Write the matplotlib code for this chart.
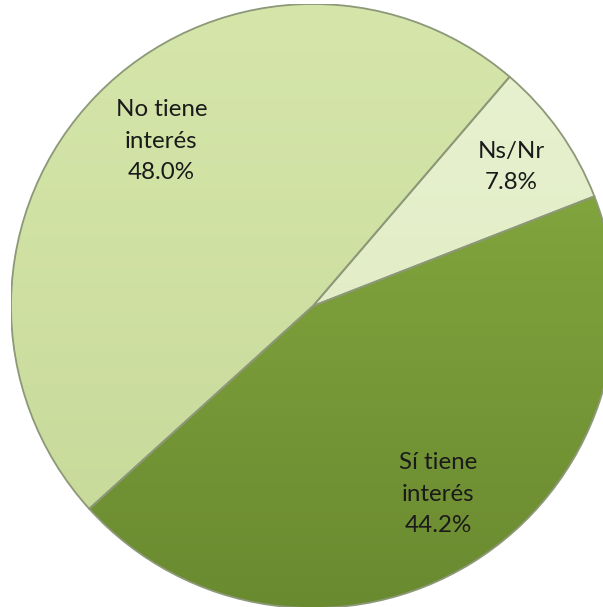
import numpy as np
import matplotlib
matplotlib.use('Agg')
import matplotlib.pyplot as plt
from matplotlib.patches import Wedge
from matplotlib.colors import LinearSegmentedColormap

# data
categories = ['Sí tiene\ninterés', 'No tiene\ninterés', 'Ns/Nr']
values = [44.2, 48.0, 7.8]
top_colors = ['#8cb043', '#d6e6ab', '#e9f2d2']
bottom_colors = ['#6a8a30', '#c6d998', '#dce9bc']
label_pos = [(0.415, -0.623), (-0.502, 0.546), (0.656, 0.46)]

fig = plt.figure(figsize=(6.03, 6.07), dpi=100)
ax = fig.add_axes([11 / 603, -1 / 607, 604 / 603, 604 / 607])
ax.axis('off')

wedges, _ = ax.pie(values, startangle=21.3, counterclock=False, radius=1.0,
                   colors=top_colors)
ax.set_xlim(-1, 1)
ax.set_ylim(-1, 1)

# vertical gradient inside each slice
grad = np.linspace(0, 1, 256).reshape(-1, 1)
for w, c1, c2 in zip(wedges, top_colors, bottom_colors):
    cmap = LinearSegmentedColormap.from_list('g', [c2, c1])
    im = ax.imshow(grad, extent=[-1, 1, -1, 1], origin='lower', cmap=cmap,
                   aspect='auto', zorder=w.get_zorder() + 0.1)
    im.set_clip_path(w)
    ax.add_patch(Wedge(w.center, w.r, w.theta1, w.theta2, fill=False,
                       edgecolor='#8c9878', linewidth=1.3, zorder=5))

for cat, v, (x, y) in zip(categories, values, label_pos):
    ax.text(x, y, f'{cat}\n{v:.1f}%', ha='center', va='center', fontsize=17.4,
            family='Lato', color='#1a1a1a', linespacing=1.62, zorder=6)

fig.savefig('out.png', dpi=100, facecolor='white')
